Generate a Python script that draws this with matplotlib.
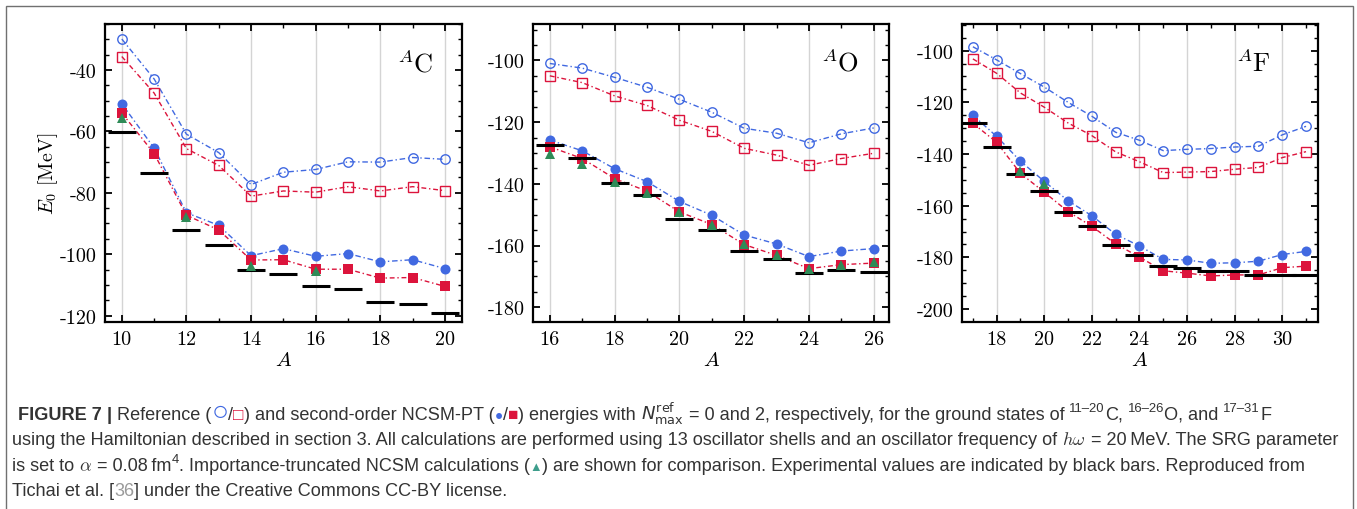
import os
import matplotlib
matplotlib.use("Agg")
import matplotlib.pyplot as plt
from matplotlib.ticker import MultipleLocator
from matplotlib.patches import Rectangle
from matplotlib.font_manager import FontProperties

W, H = 1357, 510

# ---------------- data ----------------
C_A = [10, 11, 12, 13, 14, 15, 16, 17, 18, 19, 20]
C_ref0 = [-29.9, -42.9, -60.9, -66.9, -77.3, -73.3, -72.4, -69.9, -70.0, -68.5, -69.1]
C_ref2 = [-35.6, -47.5, -65.6, -71.1, -81.1, -79.4, -79.8, -78.0, -79.4, -78.0, -79.3]
C_pt0 = [-51.0, -65.4, -86.5, -90.6, -100.5, -98.2, -100.7, -99.8, -102.5, -101.8, -104.7]
C_pt2 = [-54.0, -67.2, -87.3, -92.1, -101.9, -101.8, -104.9, -104.9, -107.8, -107.6, -110.5]
C_it_A = [10, 12, 14, 16]
C_it = [-55.5, -88.0, -103.7, -105.6]
C_exp = [-60.2, -73.4, -92.1, -97.1, -105.3, -106.5, -110.5, -111.5, -115.6, -116.3, -119.3]

O_A = [16, 17, 18, 19, 20, 21, 22, 23, 24, 25, 26]
O_ref0 = [-101.0, -102.5, -105.5, -108.7, -112.6, -116.8, -122.0, -123.6, -126.7, -123.8, -121.9]
O_ref2 = [-105.0, -107.2, -111.5, -114.6, -119.4, -123.0, -128.5, -130.7, -134.0, -131.8, -130.1]
O_pt0 = [-125.8, -129.3, -135.1, -139.3, -145.7, -150.2, -156.6, -159.5, -163.6, -161.8, -161.0]
O_pt2 = [-128.0, -131.8, -138.3, -142.4, -149.1, -153.2, -159.7, -163.2, -167.5, -166.2, -165.7]
O_it_A = [16, 17, 18, 19, 20, 21, 22, 23, 24, 25, 26]
O_it = [-130.4, -133.7, -139.3, -143.1, -149.3, -153.5, -159.6, -163.0, -167.5, -166.2, -165.4]
O_exp = [-127.4, -131.7, -139.7, -143.6, -151.3, -155.1, -161.8, -164.5, -168.8, -168.0, -168.6]

F_A = [17, 18, 19, 20, 21, 22, 23, 24, 25, 26, 27, 28, 29, 30, 31]
F_ref0 = [-98.5, -103.6, -108.9, -114.1, -120.0, -125.4, -131.6, -134.7, -138.7, -138.2,
          -137.9, -137.3, -137.0, -132.6, -129.3]
F_ref2 = [-103.2, -108.8, -116.4, -121.9, -128.0, -132.9, -139.2, -143.0, -147.2, -147.0,
          -146.8, -145.9, -145.2, -141.4, -139.1]
F_pt0 = [-125.0, -133.2, -142.8, -150.6, -158.1, -163.9, -171.1, -175.6, -180.8, -181.0,
         -182.3, -182.1, -181.5, -178.9, -177.7]
F_pt2 = [-128.1, -135.5, -147.5, -154.8, -162.3, -168.0, -174.8, -179.9, -185.2, -186.1,
         -187.2, -186.8, -186.8, -184.0, -183.4]
F_it_A = [19, 20]
F_it = [-146.5, -151.6]
F_exp = [-128.1, -137.2, -147.7, -154.3, -162.3, -167.7, -175.4, -179.1, -183.5, -184.0,
         -185.4, -185.2, -186.8, -186.8, -187.0]

C_xticks = [10, 12, 14, 16, 18, 20]
C_yticks = [-40, -60, -80, -100, -120]
O_xticks = [16, 18, 20, 22, 24, 26]
O_yticks = [-100, -120, -140, -160, -180]
F_xticks = [18, 20, 22, 24, 26, 28, 30]
F_yticks = [-100, -120, -140, -160, -180, -200]

panel_labels = [r"$^{A}\mathrm{C}$", r"$^{A}\mathrm{O}$", r"$^{A}\mathrm{F}$"]

# ---------------- style ----------------
plt.rcParams.update({
    "font.family": "serif",
    "font.serif": ["cmr10", "DejaVu Serif"],
    "mathtext.fontset": "cm",
    "axes.unicode_minus": False,
    "axes.formatter.use_mathtext": True,
})

BLUE = "#4169E1"
RED = "#DC143C"
GREEN = "#2E8B57"

_cm_path = os.path.join(matplotlib.get_data_path(), "fonts", "ttf", "cmr10.ttf")
if os.path.exists(_cm_path):
    TICKFP = FontProperties(fname=_cm_path, size=14.5)
else:
    TICKFP = FontProperties(family="DejaVu Serif", size=13.5)

fig = plt.figure(figsize=(W / 100, H / 100), dpi=100)


def add_axes_px(l, t, r, b):
    return fig.add_axes([l / W, 1 - b / H, (r - l) / W, (b - t) / H])


boxes = [(105, 25, 461.7, 322.7), (533.3, 25, 889.3, 322.7), (961.7, 25, 1317.7, 322.7)]
panels = [
    (C_A, C_ref0, C_ref2, C_pt0, C_pt2, C_it_A, C_it, C_exp, C_xticks, C_yticks, (9.48, 20.52), (-122, -25)),
    (O_A, O_ref0, O_ref2, O_pt0, O_pt2, O_it_A, O_it, O_exp, O_xticks, O_yticks, (15.49, 26.48), (-184.7, -88.2)),
    (F_A, F_ref0, F_ref2, F_pt0, F_pt2, F_it_A, F_it, F_exp, F_xticks, F_yticks, (16.53, 31.49), (-204.9, -89.7)),
]
label_pos = [(0.92, 0.87), (0.915, 0.875), (0.868, 0.873)]

dash_b = (0, (4, 2, 1, 2))
dash_r = (0, (3.5, 2, 1, 2))

for i, (box, p) in enumerate(zip(boxes, panels)):
    A, r0, r2, p0, p2, itA, it, ex, xt, yt, xl, yl = p
    ax = add_axes_px(*box)
    ax.plot(A, r0, ls=dash_b, lw=1, color=BLUE, marker="o", ms=6.8, mfc="none",
            mec=BLUE, mew=1, zorder=2)
    ax.plot(A, r2, ls=dash_r, lw=1, color=RED, marker="s", ms=6.6, mfc="none",
            mec=RED, mew=1, zorder=2)
    ax.plot(A, p0, ls=dash_b, lw=1, color=BLUE, marker="o", ms=7.2, mew=0, zorder=3)
    ax.plot(A, p2, ls=dash_r, lw=1, color=RED, marker="s", ms=6.8, mew=0, zorder=4)
    ax.plot(A, ex, ls="none", marker="_", ms=19.5, mew=2.2, color="k", zorder=5)
    ax.plot(itA, it, ls="none", marker="^", ms=7.8, mew=0, color=GREEN, zorder=6)

    ax.set_xlim(*xl)
    ax.set_ylim(*yl)
    ax.set_xticks(xt)
    ax.set_xticklabels([str(v) for v in xt], fontproperties=TICKFP)
    ax.set_yticks(yt)
    ax.set_yticklabels([str(v) for v in yt], fontproperties=TICKFP)
    ax.xaxis.set_minor_locator(MultipleLocator(1))
    ax.yaxis.set_minor_locator(MultipleLocator(5))
    ax.tick_params(which="both", direction="in", top=True, right=True)
    ax.tick_params(which="major", length=5, width=1.3, pad=6)
    ax.tick_params(which="minor", length=3, width=1.0)
    ax.xaxis.grid(True, which="major", color="#d4d4d4", lw=1)
    ax.set_axisbelow(True)
    for s in ax.spines.values():
        s.set_linewidth(1.6)
    ax.set_xlabel(r"$A$", fontsize=15, labelpad=2)
    if i == 0:
        ax.set_ylabel(r"$E_0\ [\mathrm{MeV}]$", fontsize=14.5)
        ax.yaxis.set_label_coords(-0.125, 0.5)
    ax.text(label_pos[i][0], label_pos[i][1], panel_labels[i], transform=ax.transAxes,
            ha="right", va="center", fontsize=19)

# outer frame
fig.add_artist(Rectangle((6 / W, -0.05), (1353 - 6) / W, 1.05 - 7 / H, transform=fig.transFigure,
                         fill=False, edgecolor="#707070", lw=1.0))

# ---------------- caption ----------------
TXT = "#333333"
CAPF = ["Liberation Sans", "DejaVu Sans"]
renderer = fig.canvas.get_renderer()

L1 = [
    ("FIGURE 7", dict(weight="bold")),
    ("|", dict(weight="bold", sp=True)),
    ("Reference (", dict(sp=True)),
    ("\u25CB", dict(color=BLUE, scale=1.55, dy=0.02)),
    ("/", dict()),
    ("\u25A1", dict(color=RED, scale=0.95)),
    (") and second-order NCSM-PT (", dict()),
    ("\u25CF", dict(color=BLUE, scale=0.75)),
    ("/", dict()),
    ("\u25A0", dict(color=RED, scale=0.95)),
    (") energies with", dict()),
    (r"$N^{\mathrm{ref}}_{\mathrm{max}}$", dict(sp=True, math="dejavusans")),
    ("= 0 and 2, respectively, for the ground states of", dict(sp=True)),
    ("11\u201320", dict(sp=True, scale=0.72, dy=0.42)),
    ("C,", dict()),
    ("16\u201326", dict(sp=True, scale=0.72, dy=0.42)),
    ("O, and", dict()),
    ("17\u201331", dict(sp=True, scale=0.72, dy=0.42)),
    ("F", dict()),
]
L2 = [
    ("using the Hamiltonian described in section 3. All calculations are performed using 13 "
     "oscillator shells and an oscillator frequency of", dict()),
    (r"$h\omega$", dict(sp=True, math="cm")),
    ("= 20\u2009MeV. The SRG parameter", dict(sp=True)),
]
L3 = [
    ("is set to", dict()),
    (r"$\alpha$", dict(sp=True, math="cm")),
    ("= 0.08\u2009fm", dict(sp=True)),
    ("4", dict(scale=0.72, dy=0.42)),
    (". Importance-truncated NCSM calculations (", dict()),
    ("\u25B2", dict(color="#3E9E8C", scale=0.7)),
    (") are shown for comparison. Experimental values are indicated by black bars. "
     "Reproduced from", dict()),
]
L4 = [
    ("Tichai et al. [", dict()),
    ("36", dict(color="#9a9a9a")),
    ("] under the Creative Commons CC-BY license.", dict()),
]


def make_text(x, y, s, o, fs):
    size = fs * o.get("scale", 1.0)
    return fig.text(x / W, 1 - y / H, s, fontsize=size, color=o.get("color", TXT),
                    fontweight=o.get("weight", "normal"), family=CAPF,
                    math_fontfamily=o.get("math", "dejavusans"), va="baseline", ha="left")


def space_w(fs):
    a = make_text(0, 0, "x x", {}, fs)
    b = make_text(0, 0, "xx", {}, fs)
    w = a.get_window_extent(renderer).width - b.get_window_extent(renderer).width
    a.remove()
    b.remove()
    return w


def draw_line(pieces, x0, ybase, fs, keep=True):
    x = x0
    sw = space_w(fs)
    made = []
    for s, o in pieces:
        if o.get("sp"):
            x += sw
        dy = o.get("dy", 0.0) * fs * 100 / 72
        t = make_text(x, ybase - dy, s, o, fs)
        x += t.get_window_extent(renderer).width
        made.append(t)
    if not keep:
        for t in made:
            t.remove()
    return x


# fit caption font size so line 3 spans the reference width
w10 = draw_line(L3, 0, 0, 10, keep=False)
FS = 10 * (1317 - 12) / w10

draw_line(L1, 18, 420, FS)
draw_line(L2, 12, 445.5, FS)
draw_line(L3, 12, 471, FS)
draw_line(L4, 12, 496, FS)

fig.savefig("out.png", dpi=100)
